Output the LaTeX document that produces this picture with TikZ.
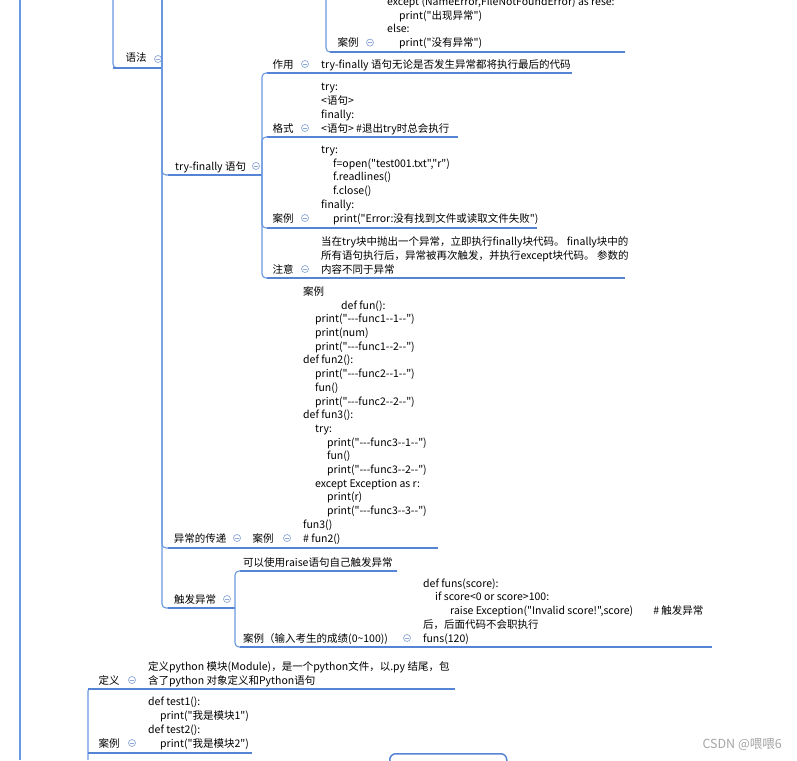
\documentclass[tikz,border=0pt]{standalone}
\usepackage{fontspec}
\newfontfamily\cjk{Noto Sans CJK SC}
\definecolor{lc}{RGB}{104,152,224}
\definecolor{uc}{RGB}{86,132,212}
\definecolor{cc}{RGB}{140,166,214}
\definecolor{wm}{RGB}{165,165,165}
\newcommand{\tf}{\cjk\fontsize{10.5}{13.7}\selectfont}
\newcommand{\blk}[1]{\begin{tabular}[t]{@{}l@{}}#1\end{tabular}}
\newcommand{\ia}{\hspace*{12pt}}
\begin{document}
\begin{tikzpicture}[x=1pt,y=-1pt,
  conn/.style={draw=lc, line width=1.1pt, rounded corners=4pt},
  uline/.style={draw=uc, line width=1.5pt},
  lbl/.style={anchor=base, inner sep=0pt, font=\tf},
  txt/.style={anchor=base west, inner sep=0pt, font=\tf},
  fold/.style={circle, draw=cc, line width=0.7pt, minimum size=7pt, inner sep=0pt, fill=white,
    path picture={\draw[cc, line width=0.7pt] ([xshift=-1.8pt]path picture bounding box.center) -- ([xshift=1.8pt]path picture bounding box.center);}}]
\useasboundingbox (0,0) rectangle (797,760);

% ---------- main trunk ----------
\coordinate (t0a) at (20,0);
\coordinate (t0b) at (20,760);
\draw[conn] (t0a) -- (t0b);

% ---------- top 案例 (cut off) ----------
\coordinate (tca) at (326,0);
\coordinate (tc0) at (330,52);
\coordinate (tc1) at (625,52);
\draw[conn] (tca) |- (tc1);
\draw[uline] (tc0) -- (tc1);
\node[lbl] (tcl) at (348,46.6) {案例};
\node[fold] (tcf) at (370,42.6) {};
\node[txt] (tcc) at (387,5.5) {\blk{except (NameError,FileNotFoundError) as rese:\\
\ia print("出现异常")\\
else:\\
\ia print("没有异常")}};

% ---------- 语法 ----------
\coordinate (yftop) at (113,0);
\coordinate (yf0) at (113,68);
\coordinate (yf1) at (162,68);
\draw[conn] (yftop) |- (yf1);
\draw[uline] (yf0) -- (yf1);
\node[lbl] (yufa) at (136,62) {语法};
\node[fold] (yufaF) at (158,59) {};
\coordinate (yfup) at (162,0);
\draw[conn] (yf1) -- (yfup);

% ---------- try-finally 语句 ----------
\coordinate (tf0) at (168,175);
\coordinate (tf1) at (262,175);
\draw[conn] (yf1) |- (tf1);
\draw[uline] (tf0) -- (tf1);
\node[txt] (tfl) at (175,170) {try-finally 语句};
\node[fold] (tff) at (256,166) {};

% 作用
\coordinate (zy0) at (267,73);
\coordinate (zy1) at (315,73);
\coordinate (zy2) at (572,73);
\draw[conn] (tf1) |- (zy1);
\draw[uline] (zy0) -- (zy1);
\draw[uline] (zy1) -- (zy2);
\node[lbl] (zyl) at (283,68) {作用};
\node[fold] (zyf) at (305,64) {};
\node[txt] (zyt) at (321,68) {try-finally 语句无论是否发生异常都将执行最后的代码};

% 格式
\coordinate (gs0) at (267,137);
\coordinate (gs1) at (315,137);
\coordinate (gs2) at (458,137);
\draw[conn] (tf1) |- (gs1);
\draw[uline] (gs0) -- (gs1);
\draw[uline] (gs1) -- (gs2);
\node[lbl] (gsl) at (283,132) {格式};
\node[fold] (gsf) at (305,128) {};
\node[txt] (gst) at (321,90.9) {\blk{try:\\ <语句>\\ finally:\\ <语句> \#退出try时总会执行}};

% 案例
\coordinate (al0) at (267,228);
\coordinate (al1) at (315,228);
\coordinate (al2) at (537,228);
\draw[conn] (tf1) |- (al1);
\draw[uline] (al0) -- (al1);
\draw[uline] (al1) -- (al2);
\node[lbl] (all) at (283,222) {案例};
\node[fold] (alf) at (305,218) {};
\node[txt] (alt) at (321,153.5) {\blk{try:\\
\ia f=open("test001.txt","r")\\
\ia f.readlines()\\
\ia f.close()\\
finally:\\
\ia print("Error:没有找到文件或读取文件失败")}};

% 注意
\coordinate (zz0) at (267,278);
\coordinate (zz1) at (315,278);
\coordinate (zz2) at (625,278);
\draw[conn] (tf1) |- (zz1);
\draw[uline] (zz0) -- (zz1);
\draw[uline] (zz1) -- (zz2);
\node[lbl] (zzl) at (283,273) {注意};
\node[fold] (zzf) at (305,269) {};
\node[txt] (zzt) at (321,245.6) {\blk{当在try块中抛出一个异常，立即执行finally块代码。 finally块中的\\
所有语句执行后，异常被再次触发，并执行except块代码。 参数的\\
内容不同于异常}};

% ---------- 异常的传递 ----------
\coordinate (cd0) at (168,548);
\coordinate (cd1) at (245,548);
\coordinate (cd2) at (297,548);
\coordinate (cd3) at (438,548);
\draw[conn] (yf1) |- (cd1);
\draw[uline] (cd0) -- (cd1);
\draw[conn] (cd1) -- (cd2);
\draw[uline] (cd1) -- (cd2);
\draw[uline] (cd2) -- (cd3);
\node[lbl] (cdl) at (200,542) {异常的传递};
\node[fold] (cdf) at (237,538) {};
\node[lbl] (cal) at (263,542) {案例};
\node[fold] (caf) at (287,538) {};
\node[txt] (cat) at (303,295.4) {\blk{案例\\
\hspace*{38pt}def fun():\\
\ia print("---func1--1--")\\
\ia print(num)\\
\ia print("---func1--2--")\\
def fun2():\\
\ia print("---func2--1--")\\
\ia fun()\\
\ia print("---func2--2--")\\
def fun3():\\
\ia try:\\
\ia\ia print("---func3--1--")\\
\ia\ia fun()\\
\ia\ia print("---func3--2--")\\
\ia except Exception as r:\\
\ia\ia print(r)\\
\ia\ia print("---func3--3--")\\
fun3()\\
\# fun2()}};

% ---------- 触发异常 ----------
\coordinate (cf0) at (168,608);
\coordinate (cf1) at (235,608);
\draw[conn] (yf1) |- (cf1);
\draw[uline] (cf0) -- (cf1);
\node[lbl] (cfl) at (195,603) {触发异常};
\node[fold] (cff) at (227,599) {};

\coordinate (rs0) at (240,571);
\coordinate (rs1) at (397,571);
\draw[conn] (cf1) |- (rs1);
\draw[uline] (rs0) -- (rs1);
\node[txt] (rst) at (243,566) {可以使用raise语句自己触发异常};

\coordinate (rc0) at (240,647);
\coordinate (rc1) at (415,647);
\coordinate (rc2) at (712,647);
\draw[conn] (cf1) |- (rc1);
\draw[uline] (rc0) -- (rc1);
\draw[uline] (rc1) -- (rc2);
\node[txt] (rcl) at (243,642) {案例（输入考生的成绩(0\textasciitilde100))};
\node[fold] (rcf) at (407,638) {};
\node[txt] (rct) at (423,587.2) {\blk{def funs(score):\\
\ia if score<0 or score>100:\\
\ia\hspace*{15pt}raise Exception("Invalid score!",score)\hspace*{20pt}\# 触发异常\\
后，后面代码不会职执行\\
funs(120)}};

% ---------- 模块: 定义 / 案例 ----------
\coordinate (dy0) at (88,689);
\coordinate (dy1) at (140,689);
\coordinate (dy2) at (455,689);
\coordinate (mbot) at (88,760);
\draw[conn, rounded corners=2pt] (mbot) |- (dy1);
\draw[uline] (dy0) -- (dy1);
\draw[uline] (dy1) -- (dy2);
\node[lbl] (dyl) at (109,684) {定义};
\node[fold] (dyf) at (132,680) {};
\node[txt] (dyt) at (148,670.3) {\blk{定义python 模块(Module)，是一个python文件，以.py 结尾，包\\
含了python 对象定义和Python语句}};

\coordinate (ml0) at (88,753);
\coordinate (ml1) at (140,753);
\coordinate (ml2) at (252,753);
\draw[uline] (ml0) -- (ml1);
\draw[uline] (ml1) -- (ml2);
\node[lbl] (mll) at (109,747) {案例};
\node[fold] (mlf) at (132,743) {};
\node[txt] (mlt) at (148,705.9) {\blk{def test1():\\
\ia print("我是模块1")\\
def test2():\\
\ia print("我是模块2")}};

% bottom box (cut off)
\node[draw=uc, line width=1.5pt, rounded corners=6pt, minimum width=117pt, minimum height=40pt, anchor=north west, inner sep=0pt] (bbox) at (389,753) {};

% watermark
\node[anchor=base east, inner sep=0pt, font=\cjk\fontsize{12.5}{14}\selectfont, text=wm] (wmk) at (782,748) {CSDN @喂喂6};
\end{tikzpicture}
\end{document}
